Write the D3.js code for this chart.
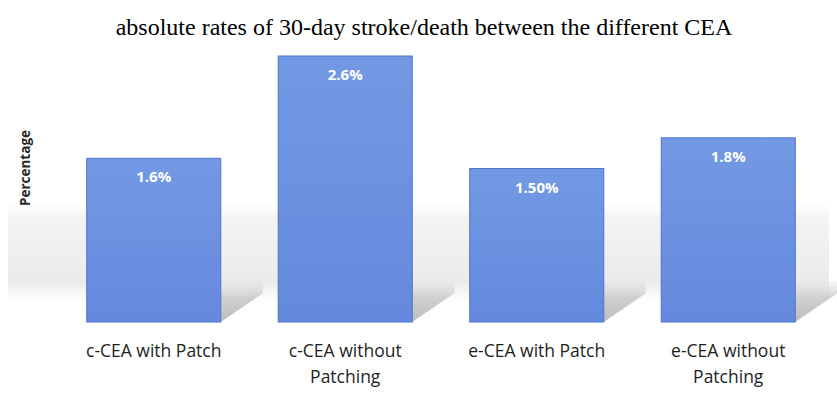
<!doctype html>
<html lang="en">
<head>
<meta charset="UTF-8">
<script src="https://cdn.jsdelivr.net/npm/d3@7"></script>
<style>
  body { margin: 0; background: #fff; }
  .title { font: 24px "Liberation Serif", "Times New Roman", serif; fill: #000; }
  .ylabel { font: bold 13.5px "Open Sans", sans-serif; fill: #2a2a2a; }
  .cat { font: 17.5px "Open Sans", sans-serif; fill: #1e1e1e; }
  .val { font: bold 15px "Open Sans", sans-serif; fill: #fff; }
</style>
</head>
<body>
<svg id="chart"></svg>
<script>
// chart data
let categories = ["c-CEA with Patch", "c-CEA without|Patching", "e-CEA with Patch", "e-CEA without|Patching"];
let values = [1.6, 2.6, 1.5, 1.8];
let valueLabels = ["1.6%", "2.6%", "1.50%", "1.8%"];
let titleText = "absolute rates of 30-day stroke/death between the different CEA";

let width = 837, height = 394;
let svg = d3.select("#chart").attr("width", width).attr("height", height);

let x = d3.scaleBand()
  .domain(categories)
  .range([58, 824])
  .paddingInner(0.3)
  .paddingOuter(0.15);
let y = d3.scaleLinear()
  .domain([0, 2.6])
  .range([322, 56]);

let defs = svg.append("defs");
let bg = defs.append("linearGradient").attr("id", "bg").attr("x1", 0).attr("y1", 0).attr("x2", 0).attr("y2", 1);
bg.append("stop").attr("offset", "0%").attr("stop-color", "#fff");
bg.append("stop").attr("offset", "15%").attr("stop-color", "#f3f3f3");
bg.append("stop").attr("offset", "80%").attr("stop-color", "#ebebeb");
bg.append("stop").attr("offset", "100%").attr("stop-color", "#fff");
let barGrad = defs.append("linearGradient").attr("id", "barGrad").attr("x1", 0).attr("y1", 0).attr("x2", 0).attr("y2", 1);
barGrad.append("stop").attr("offset", "0%").attr("stop-color", "#7399e4");
barGrad.append("stop").attr("offset", "100%").attr("stop-color", "#6489dd");
let sh = defs.append("linearGradient").attr("id", "sh").attr("x1", 0).attr("y1", 0).attr("x2", 0).attr("y2", 1);
sh.append("stop").attr("offset", "0%").attr("stop-color", "#d8d8d8").attr("stop-opacity", 0.2);
sh.append("stop").attr("offset", "40%").attr("stop-color", "#c4c4c4").attr("stop-opacity", 0.8);
sh.append("stop").attr("offset", "100%").attr("stop-color", "#b5b5b5").attr("stop-opacity", 0.9);

// soft grey floor band
svg.append("rect")
  .attr("x", 8).attr("y", y(1.15))
  .attr("width", width - 16).attr("height", y(0.2) - y(1.15))
  .attr("fill", "url(#bg)");

// bar shadows falling to the right
svg.selectAll(".shadow")
  .data(values)
  .enter().append("path")
  .attr("class", "shadow")
  .attr("fill", "url(#sh)")
  .attr("d", function(d, i) {
    let x0 = x(categories[i]) + x.bandwidth();
    let top = y(0.4);
    return "M" + x0 + "," + top + " L" + (x0 + 42) + "," + top +
      " L" + (x0 + 42) + "," + y(0.28) + " L" + x0 + "," + y(0) + "Z";
  });

// bars
svg.selectAll(".bar")
  .data(values)
  .enter().append("rect")
  .attr("class", "bar")
  .attr("x", function(d, i) { return x(categories[i]); })
  .attr("y", function(d) { return y(d); })
  .attr("width", x.bandwidth())
  .attr("height", function(d) { return y(0) - y(d); })
  .attr("fill", "url(#barGrad)")
  .attr("stroke", "#4d74cc")
  .attr("stroke-width", 1);

// value labels
svg.selectAll(".val")
  .data(values)
  .enter().append("text")
  .attr("class", "val")
  .attr("text-anchor", "middle")
  .attr("x", function(d, i) { return x(categories[i]) + x.bandwidth() / 2; })
  .attr("y", function(d) { return y(d) + 24; })
  .text(function(d, i) { return valueLabels[i]; });

// category labels (two lines where needed)
let cats = svg.selectAll(".cat")
  .data(categories)
  .enter().append("text")
  .attr("class", "cat")
  .attr("text-anchor", "middle")
  .attr("x", function(d) { return x(d) + x.bandwidth() / 2; })
  .attr("y", 357);
cats.each(function(d) {
  let lines = d.split("|");
  let t = d3.select(this);
  lines.forEach(function(l, j) {
    t.append("tspan")
      .attr("x", t.attr("x"))
      .attr("dy", j === 0 ? 0 : 26)
      .text(l);
  });
});

// title
svg.append("text")
  .attr("class", "title")
  .attr("text-anchor", "middle")
  .attr("x", 424).attr("y", 35)
  .text(titleText);

// y axis label
svg.append("text")
  .attr("class", "ylabel")
  .attr("text-anchor", "middle")
  .attr("transform", "translate(30,168) rotate(-90)")
  .text("Percentage");
</script>
</body>
</html>
